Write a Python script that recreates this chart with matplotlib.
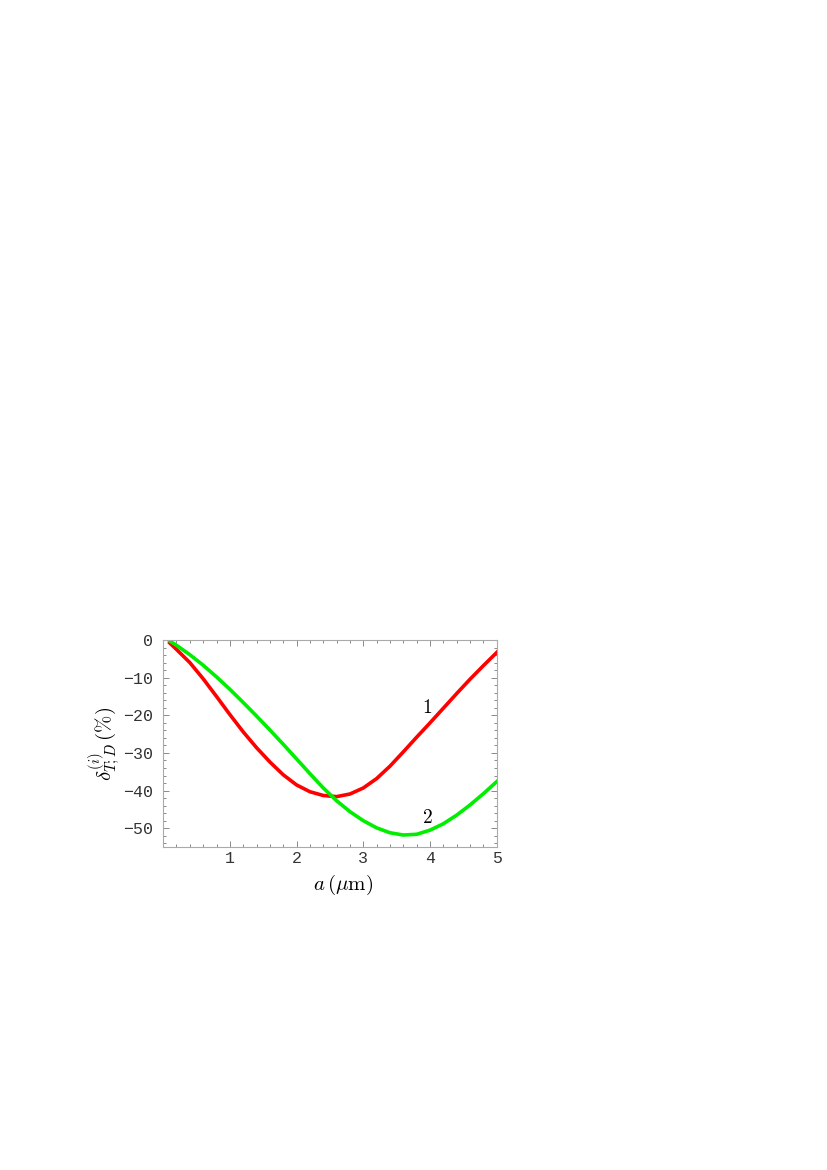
import matplotlib
matplotlib.use("Agg")
import matplotlib.pyplot as plt
from matplotlib.ticker import MultipleLocator

plt.rcParams['mathtext.fontset'] = 'cm'

# data: a (um) vs delta (%)
a_vals = [0.1, 0.2, 0.4, 0.6, 0.8, 1.0, 1.2, 1.4, 1.6, 1.8, 2.0, 2.2, 2.4,
          2.6, 2.8, 3.0, 3.2, 3.4, 3.6, 3.8, 4.0, 4.2, 4.4, 4.6, 4.8, 5.0]
curve1 = [-0.8, -2.5, -6.0, -10.3, -15.0, -19.8, -24.4, -28.6, -32.4, -35.8, -38.5,
          -40.3, -41.3, -41.6, -40.9, -39.3, -36.8, -33.5, -29.7, -25.8, -22.0,
          -18.1, -14.2, -10.4, -6.8, -3.3]
curve2 = [-0.3, -1.4, -3.9, -6.7, -9.8, -13.1, -16.6, -20.2, -23.9, -27.7, -31.6,
          -35.5, -39.3, -42.7, -45.6, -48.0, -49.9, -51.2, -51.8, -51.6, -50.5,
          -48.8, -46.5, -43.8, -40.8, -37.6]
xticks = [1, 2, 3, 4, 5]
yticks = [0, -10, -20, -30, -40, -50]

fig = plt.figure(figsize=(8.28, 11.7), dpi=100)
ax = fig.add_axes([0.197, 0.276, 0.403, 0.177])

ax.plot(a_vals, curve1, color="#ff0000", lw=2.6, solid_joinstyle="round")
ax.plot(a_vals, curve2, color="#00ee00", lw=2.6, solid_joinstyle="round")

ax.text(3.96, -17.9, r"$1$", fontsize=14, ha="center", va="center")
ax.text(3.96, -47.2, r"$2$", fontsize=14, ha="center", va="center")

ax.set_xlim(0, 5)
ax.set_ylim(-55, 0)
ax.set_xticks(xticks)
ax.set_yticks(yticks)
ax.set_xticklabels([str(t) for t in xticks])
ax.set_yticklabels([str(t).replace("-", "\u2212") for t in yticks])
ax.xaxis.set_minor_locator(MultipleLocator(0.2))
ax.yaxis.set_minor_locator(MultipleLocator(2))

for s in ax.spines.values():
    s.set_color("#aaaaaa")
    s.set_linewidth(0.8)
ax.tick_params(which="both", direction="in", top=True, right=True,
               color="#777777", width=0.6)
ax.tick_params(which="major", length=4.5, labelsize=12)
ax.tick_params(which="minor", length=2.2)
ax.tick_params(axis="x", which="major", pad=3)
ax.tick_params(axis="y", which="major", pad=7)
for lab in ax.get_xticklabels() + ax.get_yticklabels():
    lab.set_family("Liberation Mono")
    lab.set_color("#333333")

ax.set_xlabel(r"$a\,(\mu\mathrm{m})$", fontsize=15, labelpad=1)
ax.xaxis.set_label_coords(0.539, -0.125)
ax.set_ylabel(r"$\delta^{(i)}_{T;D}\,(\%)$", fontsize=15, labelpad=0)

fig.savefig("out.png", dpi=100)
